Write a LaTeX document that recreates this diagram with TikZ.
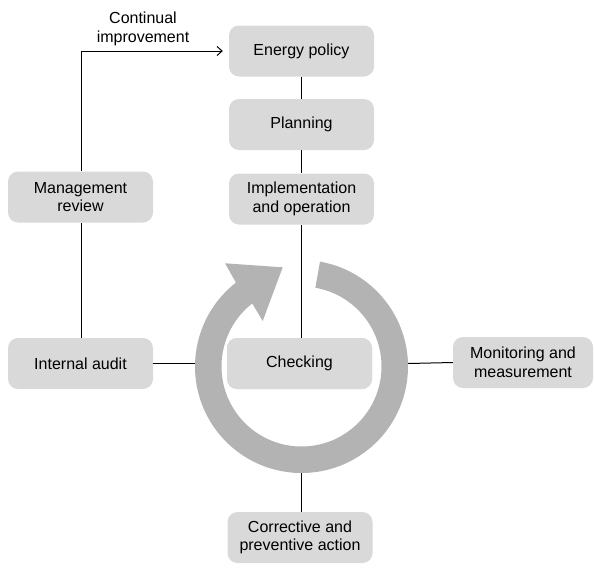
\documentclass[tikz,border=0pt]{standalone}
\usepackage{fontspec}
\setmainfont{Liberation Sans}
\usetikzlibrary{arrows.meta,calc}
\definecolor{boxgray}{HTML}{D9D9D9}
\definecolor{ringgray}{HTML}{B3B3B3}
\begin{document}
\begin{tikzpicture}[x=1pt,y=-1pt,
  stepbox/.style={fill=boxgray, rounded corners=10pt, minimum width=145pt, minimum height=51pt,
    align=center, inner sep=0pt, font=\fontsize{16}{18.5}\selectfont},
  conn/.style={draw=black, line width=1pt}]
\useasboundingbox (0,0) rectangle (594,582);
% nodes
\node[stepbox] (ep) at (301.5,51) {Energy policy};
\node[stepbox] (pl) at (301.5,124.5) {Planning};
\node[stepbox] (im) at (301.5,199) {Implementation\\and operation};
\node[stepbox] (ch) at (299.5,363.5) {Checking};
\node[stepbox] (co) at (300,537.5) {Corrective and\\preventive action};
\node[stepbox] (mr) at (80.5,197) {Management\\review};
\node[stepbox] (ia) at (80.5,363.5) {Internal audit};
\node[stepbox, minimum width=140pt] (mm) at (523,362.5) {Monitoring and\\measurement};
\node[align=center, inner sep=0pt, font=\fontsize{16}{18.5}\selectfont] (ci) at (143,29) {Continual\\improvement};
% ring centre and contact points
\coordinate (C) at (301.5,366.5);
\coordinate (cl) at (195,363.5);
\coordinate (cr) at (408,363.5);
\coordinate (cb) at (301.5,473);
% connectors (behind the ring)
\begin{scope}[on background layer/.style={}]
\draw[conn] (ep.south -| 301.5,0) -- (pl.north -| 301.5,0);
\draw[conn] (pl.south -| 301.5,0) -- (im.north -| 301.5,0);
\draw[conn] (im.south -| 301.5,0) -- (ch.north -| 301.5,0);
\draw[conn] (co.north -| cb) -- (cb);
\draw[conn] (ia.east) -- (cl);
\draw[conn] (mm.west) -- (cr);
\draw[conn] (ia.north -| 81.5,0) -- (mr.south -| 81.5,0);
\draw[conn, -{Straight Barb[length=5pt,width=9pt,line width=1pt]}, shorten >=6pt]
  (mr.north -| 81.5,0) |- (ep.west);
\end{scope}
% circular arrow
\fill[ringgray] ($(C)+(-80:106.5)$) arc[start angle=-80, end angle=232, radius=106.5]
  -- (225,263.3) -- (282.7,267.3) -- (262.7,321)
  -- ($(C)+(232:80)$) arc[start angle=232, end angle=-80, radius=80] -- cycle;
% redraw the checking box on top
\node[stepbox] at (ch) {Checking};
\end{tikzpicture}
\end{document}
